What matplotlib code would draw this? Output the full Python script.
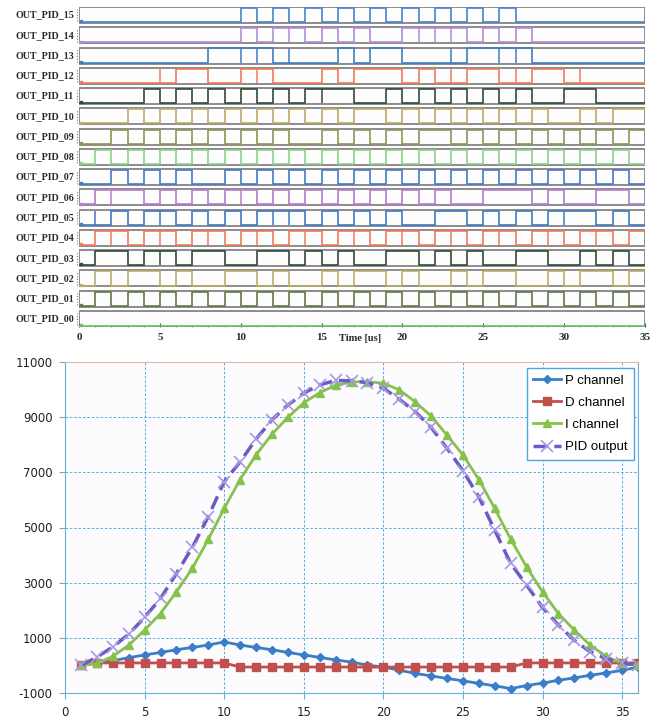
import matplotlib
matplotlib.use("Agg")
from matplotlib import pyplot as plt
import matplotlib.patches as patches

plt.rcParams["axes.unicode_minus"] = False

# ---- top panel: digital outputs (transition times in us, each row starts low)
row_names = ["OUT_PID_%02d" % i for i in range(16)]
row_colors = [
    "#66c266", "#5f7a45", "#b9ad6a", "#2f4a3c", "#f07a5c", "#3f78c4",
    "#b47ad6", "#4478cc", "#86d486", "#8e9456", "#bfa868", "#2f4a3c",
    "#f07a5c", "#3f7dc2", "#b38ad8", "#4a82cc",
]
transitions = [
    [],
    [1, 2, 3, 4, 5, 6, 7, 8, 9, 10, 11, 12, 13, 14, 15, 16, 17, 18, 19, 20,
     21, 22, 23, 24, 25, 26, 27, 28, 29, 30, 31, 32, 33, 34],
    [1, 2, 3, 5, 6, 7, 9, 11, 12, 13, 15, 16, 17, 19, 20, 21, 23, 24, 25,
     27, 29, 30, 31, 33, 34],
    [1, 3, 4, 6, 7, 9, 11, 13, 14, 15, 16, 17, 19, 21, 22, 23, 24, 25, 27,
     29, 31, 32, 33, 34],
    [1, 3, 4, 6, 7, 9, 10, 12, 13, 15, 16, 18, 19, 21, 22, 24, 25, 27, 28,
     30, 31, 33, 34],
    [2, 3, 4, 6, 7, 8, 9, 10, 11, 14, 15, 16, 17, 18, 19, 20, 22, 24, 25,
     26, 27, 28, 29, 32, 33, 34],
    [1, 4, 5, 6, 7, 8, 9, 11, 12, 13, 14, 15, 16, 17, 18, 19, 20, 21, 22,
     23, 25, 28, 29, 30, 32, 34],
    [2, 3, 4, 5, 6, 7, 9, 10, 11, 12, 13, 14, 15, 16, 17, 18, 19, 20, 21,
     22, 23, 24, 25, 26, 27, 28, 29, 30, 31, 32, 33, 34],
    [1, 2, 3, 4, 5, 6, 7, 8, 9, 10, 11, 12, 13, 14, 15, 16, 17, 18, 19, 20,
     21, 22, 23, 24, 25, 26, 27, 28, 29, 30, 31, 32, 33, 34],
    [2, 3, 4, 5, 6, 7, 8, 9, 10, 11, 12, 13, 15, 16, 17, 18, 19, 20, 21,
     23, 24, 25, 26, 27, 28, 29, 30, 31, 32, 33, 34],
    [3, 4, 5, 6, 7, 8, 9, 10, 11, 12, 13, 14, 15, 16, 17, 19, 20, 21, 22,
     23, 24, 25, 26, 27, 28, 29, 31, 32, 33],
    [4, 5, 6, 7, 8, 9, 10, 11, 12, 13, 14, 17, 19, 20, 21, 22, 23, 24, 25,
     26, 27, 28, 30, 32],
    [6, 8, 10, 12, 15, 16, 17, 20, 21, 22, 24, 26, 28, 30],
    [8, 12, 16, 17, 18, 20, 24, 28],
    [10, 11, 12, 14, 15, 16, 17, 18, 20, 24, 25, 26, 27, 28],
    [10, 11, 12, 13, 14, 15, 16, 17, 18, 19, 20, 21, 22, 23, 24, 25, 26, 27],
]
glitches = [
    [], [], [], [5], [2, 5, 8, 11, 14, 17, 20, 23, 26, 29, 32], [1, 5, 12, 13, 30],
    [2, 10], [], [], [], [], [15], [5, 11, 23, 27, 31], [10, 11, 13, 23, 26, 27],
    [13, 21, 22, 23], [],
]
top_ticks = [0, 5, 10, 15, 20, 25, 30, 35]

# ---- bottom panel: PID channels
x_steps = list(range(1, 37))
p_channel = [0, 90, 170, 280, 380, 470, 570, 650, 740, 850, 740, 650, 570,
             470, 380, 290, 200, 120, 10, -60, -170, -290, -380, -470, -560,
             -650, -740, -840, -730, -640, -540, -450, -360, -270, -180, -60]
d_channel = [0, 90, 90, 90, 90, 90, 90, 90, 90, 90, -60, -60, -60, -60, -60,
             -60, -60, -60, -60, -60, -60, -60, -60, -60, -60, -60, -60, -60,
             90, 90, 90, 90, 90, 90, 90, 90]
i_channel = [0, 70, 330, 730, 1280, 1880, 2670, 3520, 4570, 5690, 6740, 7630,
             8380, 8990, 9520, 9890, 10150, 10280, 10290, 10230, 9990, 9560,
             9040, 8350, 7630, 6740, 5690, 4580, 3570, 2670, 1880, 1280, 730,
             330, 70, 0]
pid_output = [0, 300, 670, 1130, 1740, 2430, 3330, 4280, 5390, 6660, 7380,
              8200, 8900, 9440, 9870, 10170, 10330, 10320, 10250, 10050, 9650,
              9200, 8630, 7870, 7060, 6110, 4900, 3700, 2910, 2100, 1460, 910,
              490, 250, 70, 30]
bottom_xticks = [0, 5, 10, 15, 20, 25, 30, 35]
bottom_yticks = [-1000, 1000, 3000, 5000, 7000, 9000, 11000]

W, H = 670, 718
fig = plt.figure(figsize=(W / 100, H / 100), dpi=100)
fig.patch.set_facecolor("white")

# top panel
ax1 = fig.add_axes([79 / W, 1 - 327 / H, (645 - 79) / W, (327 - 7) / H])
box_h = 0.79
ax1.set_xlim(0, 35)
ax1.set_ylim(0, 15 + box_h)
for k in range(16):
    ax1.add_patch(patches.Rectangle((0, k), 35, box_h, facecolor="#fdfdfd",
                                    edgecolor="#8c8c8c", linewidth=1.4, zorder=1))
    lo, hi = k + 0.045, k + box_h - 0.045
    tr = transitions[k]
    ts = [0] + tr + [35]
    lv = [lo if i % 2 == 0 else hi for i in range(len(tr) + 1)]
    lv.append(lv[-1])
    ax1.step(ts, lv, where="post", color=row_colors[k], lw=1.2, zorder=2)
    if glitches[k]:
        ax1.vlines(glitches[k], lo, hi, color=row_colors[k], lw=1.1, zorder=2)
    ax1.plot([0.15], [lo + 0.04], marker="s", ms=2, color=row_colors[k], zorder=3)
    ax1.plot([-0.1, -0.1], [k + 0.08, k + box_h - 0.08], ls=(0, (1, 1.5)),
             color="#777777", lw=0.8, clip_on=False)
    ax1.text(-0.3, k + box_h / 2, row_names[k], ha="right", va="center",
             fontsize=7.2, family="Liberation Serif", fontweight="bold",
             color="#2a2a2a")
for s in ax1.spines.values():
    s.set_visible(False)
ax1.set_yticks([])
ax1.set_xticks(top_ticks)
ax1.set_xticks(range(0, 36), minor=True)
ax1.tick_params(axis="x", which="major", direction="in", length=3,
                labelsize=8, pad=4.5, color="#555555", labelcolor="#2a2a2a")
ax1.tick_params(axis="x", which="minor", direction="in", length=1.5,
                color="#777777")
for lab in ax1.get_xticklabels():
    lab.set_family("Liberation Serif")
    lab.set_fontweight("bold")
ax1.text(17.4, -0.035, "Time [us]", transform=ax1.get_xaxis_transform(),
         ha="center", va="center", fontsize=7.5, family="Liberation Serif",
         fontweight="bold", color="#2a2a2a")

# bottom panel
ax2 = fig.add_axes([65 / W, 1 - 693 / H, (638 - 65) / W, (693 - 362) / H])
ax2.set_facecolor("#fcfcfe")
ax2.set_xlim(0, 36)
ax2.set_ylim(-1000, 11000)
ax2.set_xticks(bottom_xticks)
ax2.set_yticks(bottom_yticks)
ax2.grid(True, ls=(0, (2.5, 2)), color="#5aaad8", lw=0.7)
ax2.set_axisbelow(True)
ax2.spines["left"].set_color("#6aaedc")
ax2.spines["bottom"].set_color("#6aaedc")
ax2.spines["right"].set_color("#6aaedc")
ax2.spines["top"].set_color("#e8b898")
ax2.tick_params(length=4, color="#6aaedc", labelsize=8.5, labelcolor="#222222")
ax2.tick_params(axis="x", pad=5)
ax2.tick_params(axis="y", pad=5)

ax2.plot(x_steps, p_channel, color="#3a7dc9", lw=2, marker="D", ms=4,
         label="P channel", zorder=3)
ax2.plot(x_steps, d_channel, color="#c0504d", lw=2, marker="s", ms=6,
         label="D channel", zorder=3)
ax2.plot(x_steps, i_channel, color="#86c24a", lw=2, marker="^", ms=6,
         label="I channel", zorder=4)
ax2.plot(x_steps, pid_output, color="#6a5cc4", lw=2.5, ls=(0, (4, 2)),
         marker="x", ms=8, mec="#a898e4", mew=1.2, label="PID output", zorder=5)

leg = ax2.legend(loc="upper right", bbox_to_anchor=(0.993, 0.982),
                 prop={"family": "Liberation Sans", "size": 9.5},
                 fancybox=False, framealpha=1, edgecolor="#4aa8e0",
                 handlelength=2.1, handletextpad=0.3, labelspacing=0.75,
                 borderpad=0.5, borderaxespad=0)
leg.get_frame().set_linewidth(1.0)

fig.savefig("out.png", dpi=100)
